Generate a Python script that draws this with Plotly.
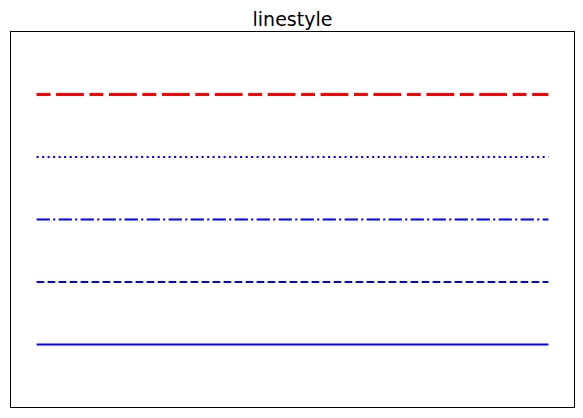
import plotly.graph_objects as go

# Data
x_vals = [0, 1]
y_levels = [1, 2, 3, 4, 5]
line_names = ["solid", "dashed", "dashdot", "dotted", "custom"]
line_colors = ["blue", "blue", "blue", "blue", "red"]
line_dashes = ["solid", "7.7px,3.3px", "13.3px,3.3px,2.1px,3.3px", "2.1px,3.4px", "13.9px,5.6px,27.8px,5.6px"]
line_widths = [2.08, 2.08, 2.08, 2.08, 2.78]

fig = go.Figure()
for name, yv, c, d, w in zip(line_names, y_levels, line_colors, line_dashes, line_widths):
    fig.add_trace(go.Scatter(x=x_vals, y=[yv, yv], mode="lines", name=name,
                             line=dict(color=c, dash=d, width=w), showlegend=False))

W, H = 583, 418
fig.update_layout(
    width=W, height=H,
    margin=dict(l=11, r=9, t=32, b=11, pad=0),
    paper_bgcolor="white", plot_bgcolor="white",
    font=dict(family="DejaVu Sans", color="black"),
    title=dict(text="linestyle", font=dict(size=19, family="DejaVu Sans", color="black"),
               x=0.5, xref="paper", xanchor="center",
               y=1 - 19 / H, yref="container", yanchor="middle"),
    xaxis=dict(range=[-0.05, 1.05], showticklabels=False, ticks="", showgrid=False,
               zeroline=False, showline=True, linecolor="black", linewidth=1.1, mirror=True),
    yaxis=dict(range=[0, 6], showticklabels=False, ticks="", showgrid=False,
               zeroline=False, showline=True, linecolor="black", linewidth=1.1, mirror=True),
)
fig.write_html("out.html")
